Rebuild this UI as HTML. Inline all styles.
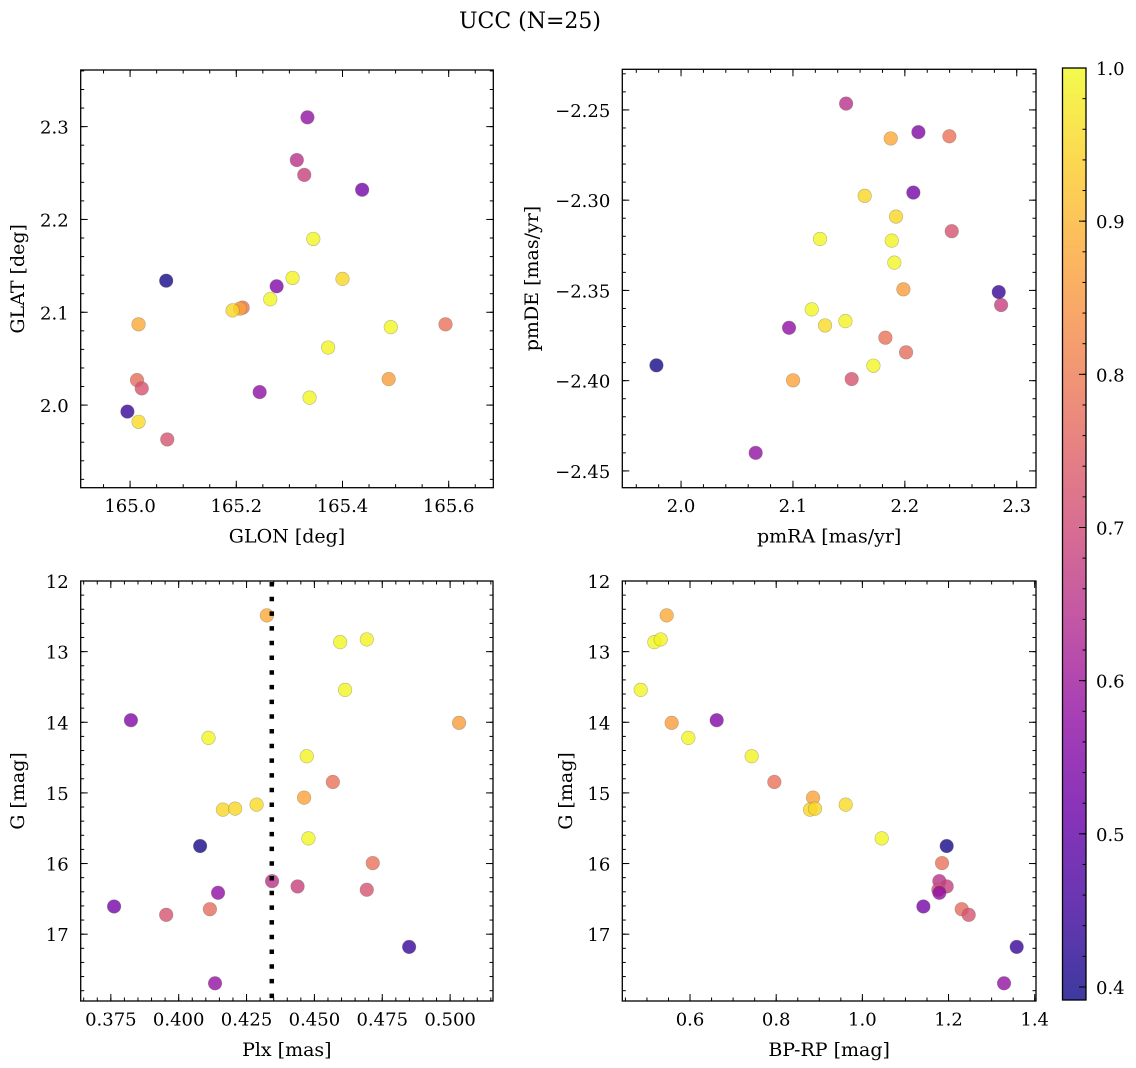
<!DOCTYPE html>
<html><head><meta charset="utf-8">
<style>
html,body{margin:0;padding:0;background:#fff;}
svg{display:block;font-family:"DejaVu Serif","Liberation Serif",serif;}
</style></head>
<body>
<svg id="fig" width="1136" height="1068" viewBox="0 0 1136 1068" xmlns="http://www.w3.org/2000/svg">
<defs>
<linearGradient id="plasmaGrad" x1="0" y1="1" x2="0" y2="0"></linearGradient>
</defs>
<text x="530" y="28" font-size="22" text-anchor="middle">UCC (N=25)</text>
</svg>
<script>
// ---- data (one entry per star) ----
const glon = [165.016,165.345,165.306,165.264,165.276,165.487,165.491,165.373,165.212,165.207,165.400,165.193,165.016,165.338,165.068,165.594,165.314,165.328,165.070,165.244,165.437,165.013,165.022,164.995,165.334];
const glat = [2.087,2.179,2.137,2.114,2.128,2.028,2.084,2.062,2.105,2.104,2.136,2.102,1.982,2.008,2.134,2.087,2.264,2.248,1.963,2.014,2.232,2.027,2.018,1.993,2.310];
const pmra = [2.1874,2.1242,2.1883,2.1906,2.2121,2.1987,2.1168,2.1469,2.2398,2.1001,2.1641,2.1921,2.1287,2.1719,1.978,2.1826,2.1475,2.2860,2.1525,2.0965,2.2076,2.2011,2.2419,2.2839,2.0667];
const pmde = [-2.2658,-2.3215,-2.3224,-2.3346,-2.2623,-2.3494,-2.3605,-2.3670,-2.2646,-2.3998,-2.2976,-2.3091,-2.3694,-2.3917,-2.3915,-2.3762,-2.2465,-2.3581,-2.3991,-2.3707,-2.2958,-2.3843,-2.3172,-2.3509,-2.4400];
const plx = [0.4325,0.4595,0.4693,0.4613,0.3824,0.5033,0.4110,0.4472,0.4568,0.4462,0.4163,0.4208,0.4287,0.4478,0.4079,0.4715,0.4344,0.4438,0.4693,0.4145,0.3762,0.4115,0.3954,0.4849,0.4134];
const gmag = [12.487,12.865,12.827,13.541,13.971,14.008,14.221,14.481,14.845,15.067,15.237,15.223,15.166,15.644,15.752,15.993,16.249,16.324,16.371,16.414,16.608,16.646,16.726,17.180,17.695];
const bprp = [0.5458,0.5172,0.5319,0.4855,0.6619,0.5574,0.5961,0.7431,0.7957,0.8855,0.8785,0.8901,0.9613,1.0449,1.1957,1.1849,1.1787,1.1957,1.1764,1.1787,1.1416,1.2306,1.2468,1.3582,1.3288];
const cval = [0.88,0.995,0.99,0.995,0.55,0.86,0.995,0.99,0.78,0.87,0.95,0.95,0.955,0.995,0.40,0.78,0.65,0.68,0.72,0.57,0.53,0.77,0.72,0.44,0.58];
const plxLine = [0.4343];
const cMin = [0.3915], cMax = [1.0];
const cbTicks = [0.4,0.5,0.6,0.7,0.8,0.9,1.0];
const glonTicks = [165.0,165.2,165.4,165.6];
const glatTicks = [2.0,2.1,2.2,2.3];
const pmraTicks = [2.0,2.1,2.2,2.3];
const pmdeTicks = [-2.45,-2.40,-2.35,-2.30,-2.25];
const plxTicks = [0.375,0.400,0.425,0.450,0.475,0.500];
const gTicks = [12,13,14,15,16,17];
const bpTicks = [0.6,0.8,1.0,1.2,1.4];

const NS="http://www.w3.org/2000/svg";
const svg=document.getElementById('fig');
function mk(tag,attrs,parent){const e=document.createElementNS(NS,tag);for(const k in attrs)e.setAttribute(k,attrs[k]);(parent||svg).appendChild(e);return e;}

const plasmaStops=["#0d0887","#41049d","#6a00a8","#8f0da4","#b12a90","#cc4778","#e16462","#f2844b","#fca636","#fcce25","#f0f921"];
function hex(h){return [parseInt(h.substr(1,2),16),parseInt(h.substr(3,2),16),parseInt(h.substr(5,2),16)];}
function plasma(t){t=Math.max(0,Math.min(1,t));const p=t*10;const i=Math.min(9,Math.floor(p));const f=p-i;const a=hex(plasmaStops[i]),b=hex(plasmaStops[i+1]);
 return "rgb("+a.map((v,k)=>Math.round(v+(b[k]-v)*f)).join(",")+")";}
function cmap(c){return plasma((c-cMin[0])/(cMax[0]-cMin[0]));}
function fmtMinus(s){return s.replace("-","\u2212");}

function panel(cfg){
 const g=mk('g',{});
 
 
 const {x0,x1,y0,y1,xd,yd,inv}=cfg;
 const sx=v=>x0+(v-xd[0])/(xd[1]-xd[0])*(x1-x0);
 const sy=inv? (v=>y0+(v-yd[0])/(yd[1]-yd[0])*(y1-y0)) : (v=>y1-(v-yd[0])/(yd[1]-yd[0])*(y1-y0));
 const pg=mk('g',{},g);
 
 
 for(let i=0;i<cfg.xs.length;i++){
  const c=mk('circle',{cx:sx(cfg.xs[i]),cy:sy(cfg.ys[i]),r:6.8,fill:cmap(cval[i]),'fill-opacity':0.8,stroke:'#6b6b50','stroke-opacity':0.45,'stroke-width':0.6},pg);
  
  
 }
 if(cfg.vline!==undefined){
  const l=mk('line',{x1:sx(cfg.vline),x2:sx(cfg.vline),y1:y0+1,y2:y1,stroke:'#000','stroke-width':4.5,'stroke-dasharray':'4.5 10.2'},g);
  
  
 }
 const fr=mk('rect',{x:x0,y:y0,width:x1-x0,height:y1-y0,fill:'none',stroke:'#000','stroke-width':1.3},g);
 
 
 const tk=mk('g',{stroke:'#000','stroke-width':1},g);
 function xt(v,len){const X=sx(v);if(X<x0-0.5||X>x1+0.5)return;mk('line',{x1:X,x2:X,y1:y1,y2:y1-len},tk);mk('line',{x1:X,x2:X,y1:y0,y2:y0+len},tk);}
 function yt(v,len){const Y=sy(v);if(Y<y0-0.5||Y>y1+0.5)return;mk('line',{x1:x0,x2:x0+len,y1:Y,y2:Y},tk);mk('line',{x1:x1,x2:x1-len,y1:Y,y2:Y},tk);}
 const xlo=Math.min(...xd),xhi=Math.max(...xd);
 for(let v=Math.ceil(xlo/cfg.xminor-1e-9)*cfg.xminor;v<=xhi+1e-9;v+=cfg.xminor)xt(v,3.5);
 const ylo=Math.min(...yd),yhi=Math.max(...yd);
 for(let v=Math.ceil(ylo/cfg.yminor-1e-9)*cfg.yminor;v<=yhi+1e-9;v+=cfg.yminor)yt(v,3.5);
 cfg.xt.forEach((v,i)=>{xt(v,7);const t=mk('text',{x:sx(v),y:y1+24.5,'font-size':18,'text-anchor':'middle'},g);t.textContent=cfg.xl[i];
  
  });
 cfg.yt.forEach((v,i)=>{yt(v,7);const t=mk('text',{x:x0-12,y:sy(v)+7,'font-size':18,'text-anchor':'end'},g);t.textContent=cfg.yl[i];
  
  });
 const xlab=mk('text',{x:(x0+x1)/2,y:y1+55,'font-size':19,'text-anchor':'middle'},g);xlab.textContent=cfg.xlabel;
 
 
 const ylab=mk('text',{x:0,y:0,'font-size':19,'text-anchor':'middle',transform:'translate('+cfg.ylx+','+((y0+y1)/2)+') rotate(-90)'},g);ylab.textContent=cfg.ylabel;
 
 
}

panel({name:'glon-glat-panel',x0:80.7,x1:493.3,y0:70,y1:487.7,xd:[164.907,165.684],yd:[1.911,2.361],xs:glon,ys:glat,
 xt:glonTicks,xl:glonTicks.map(v=>v.toFixed(1)),yt:glatTicks,yl:glatTicks.map(v=>v.toFixed(1)),xminor:0.05,yminor:0.02,
 xlabel:'GLON [deg]',ylabel:'GLAT [deg]',ylx:24});
panel({name:'proper-motion-panel',x0:622.3,x1:1036,y0:69.3,y1:487.7,xd:[1.9475,2.3172],yd:[-2.4593,-2.2275],xs:pmra,ys:pmde,
 xt:pmraTicks,xl:pmraTicks.map(v=>v.toFixed(1)),yt:pmdeTicks,yl:pmdeTicks.map(v=>fmtMinus(v.toFixed(2))),xminor:0.02,yminor:0.01,
 xlabel:'pmRA [mas/yr]',ylabel:'pmDE [mas/yr]',ylx:538});
panel({name:'plx-g-panel',x0:80.7,x1:493,y0:581,y1:1001,xd:[0.3639,0.5158],yd:[12,17.946],inv:true,xs:plx,ys:gmag,vline:plxLine[0],
 xt:plxTicks,xl:plxTicks.map(v=>v.toFixed(3)),yt:gTicks,yl:gTicks.map(v=>String(v)),xminor:0.005,yminor:0.2,
 xlabel:'Plx [mas]',ylabel:'G [mag]',ylx:24});
panel({name:'cmd-panel',x0:622.3,x1:1036,y0:581,y1:1001,xd:[0.4428,1.403],yd:[12,17.946],inv:true,xs:bprp,ys:gmag,
 xt:bpTicks,xl:bpTicks.map(v=>v.toFixed(1)),yt:gTicks,yl:gTicks.map(v=>String(v)),xminor:0.05,yminor:0.2,
 xlabel:'BP-RP [mag]',ylabel:'G [mag]',ylx:572});

const grad=document.getElementById('plasmaGrad');
for(let k=0;k<=10;k++){mk('stop',{offset:k/10,'stop-color':plasmaStops[k]},grad);}
const cb={x0:1062.5,x1:1086,y0:68,y1:1000};
const cg=mk('g',{});


mk('rect',{x:cb.x0,y:cb.y0,width:cb.x1-cb.x0,height:cb.y1-cb.y0,fill:'url(#plasmaGrad)','fill-opacity':0.8},cg);
mk('rect',{x:cb.x0,y:cb.y0,width:cb.x1-cb.x0,height:cb.y1-cb.y0,fill:'none',stroke:'#000','stroke-width':1.3},cg);
const cy=v=>cb.y1-(v-cMin[0])/(cMax[0]-cMin[0])*(cb.y1-cb.y0);
for(let v=0.4;v<=1.0001;v+=0.02){mk('line',{x1:cb.x1,x2:cb.x1-3.5,y1:cy(v),y2:cy(v),stroke:'#000','stroke-width':1},cg);}
cbTicks.forEach(v=>{mk('line',{x1:cb.x1,x2:cb.x1-7,y1:cy(v),y2:cy(v),stroke:'#000','stroke-width':1},cg);
 const t=mk('text',{x:cb.x1+10,y:cy(v)+7,'font-size':18},cg);t.textContent=v.toFixed(1);
 
 });
</script>
</body></html>
